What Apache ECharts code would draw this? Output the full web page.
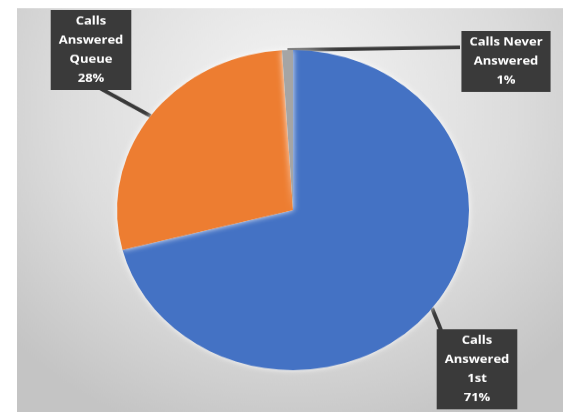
<!DOCTYPE html>
<html>
<head>
<meta charset="utf-8">
<script src="https://cdn.jsdelivr.net/npm/echarts@6/dist/echarts.min.js"></script>
<style>
  html, body { margin: 0; padding: 0; background: #fff; overflow: hidden; }
  /* the source picture is squashed a bit vertically, so draw taller and scale down */
  #main { width: 563px; height: 453px; transform: scaleY(0.9095); transform-origin: 0 0; }
</style>
</head>
<body>
<div id="main"></div>
<script>
// slice names and shares (percent)
var categories = ['Calls Answered 1st', 'Calls Answered Queue', 'Calls Never Answered']
var shares = [71, 28, 1]
// callout text, one entry per line
var labelLines = [
  ['Calls', 'Answered', '1st', '71%'],
  ['Calls', 'Answered', 'Queue', '28%'],
  ['Calls Never', 'Answered', '1%']
]
var colors = ['#4472C4', '#ED7D31', '#A5A5A5']

// callout boxes (top centre) and where their tails attach
var boxPos = [
  { x: 477, y: 362, tail: [441, 363] },
  { x: 91, y: 11, tail: [100, 97] },
  { x: 506, y: 34, tail: [460, 52] }
]

var myChart = echarts.init(document.getElementById('main'))

var pieData = categories.map(function (name, i) {
  return {
    name: name,
    value: shares[i],
    itemStyle: { color: colors[i] }
  }
})

var option = {
  animation: false,
  graphic: [
    {
      type: 'rect',
      silent: true,
      z: -10,
      shape: { x: 17, y: 9, width: 546, height: 444 },
      style: {
        fill: {
          type: 'radial',
          x: 0.5,
          y: 0.25,
          r: 0.85,
          colorStops: [
            { offset: 0, color: '#f6f6f6' },
            { offset: 0.6, color: '#dcdcdc' },
            { offset: 1, color: '#c4c4c4' }
          ]
        }
      }
    }
  ],
  series: [
    {
      type: 'pie',
      center: [293, 231],
      radius: 176,
      startAngle: 90,
      clockwise: true,
      itemStyle: {
        shadowBlur: 6,
        shadowColor: 'rgba(255,255,255,0.9)'
      },
      label: {
        show: true,
        position: 'outside',
        formatter: function (p) {
          return labelLines[p.dataIndex].join('\n')
        },
        color: '#fff',
        fontFamily: 'Open Sans',
        fontWeight: 'bold',
        fontSize: 13,
        lineHeight: 21,
        backgroundColor: '#3a3a3a',
        padding: [2, 8, 2, 8],
        align: 'center'
      },
      labelLine: {
        show: true,
        length: 10,
        length2: 10,
        lineStyle: { color: '#3a3a3a', width: 4 }
      },
      labelLayout: function (params) {
        var p = boxPos[params.dataIndex]
        var edge = params.labelLinePoints ? params.labelLinePoints[0] : null
        var out = { x: p.x, y: p.y, align: 'center', verticalAlign: 'top' }
        if (edge) out.labelLinePoints = [edge, p.tail]
        return out
      },
      emphasis: { disabled: true },
      data: pieData
    }
  ]
}

myChart.setOption(option)
</script>
</body>
</html>
